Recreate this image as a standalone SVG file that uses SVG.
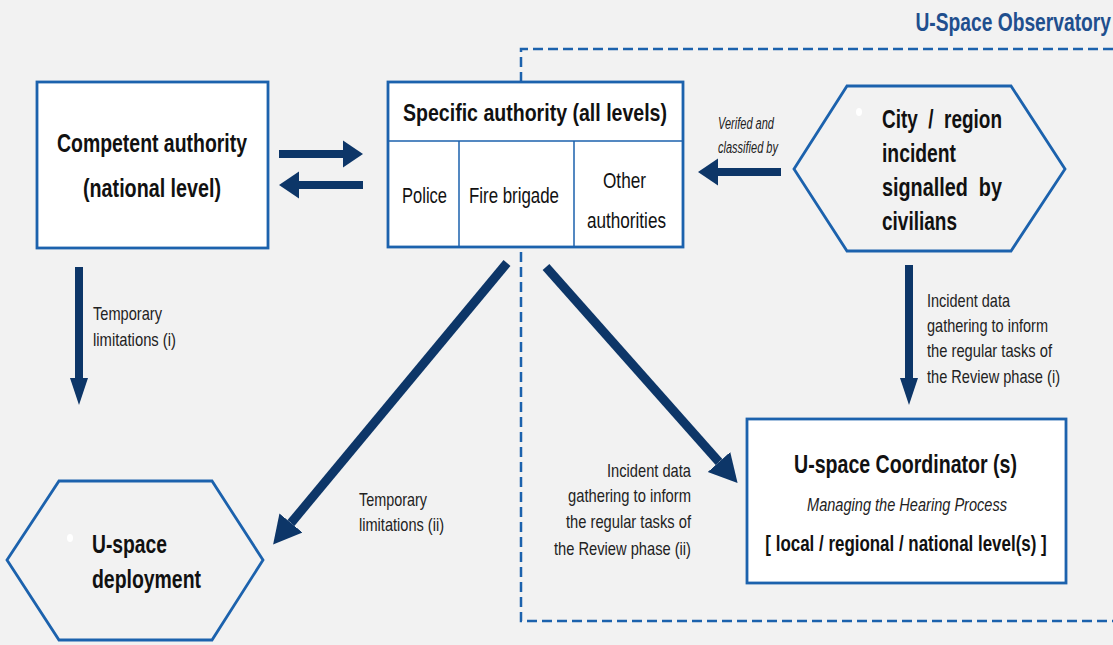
<svg xmlns="http://www.w3.org/2000/svg" width="1113" height="645" viewBox="0 0 1113 645">
  <style>
    .box { fill: #ffffff; stroke: #1c62ad; stroke-width: 2.8; }
    .hex { fill: #f2f2f2; stroke: #1c62ad; stroke-width: 2.8; }
    .div { stroke: #1c62ad; stroke-width: 1.5; fill: none; }
    .zone { fill: none; stroke: #1c62ad; stroke-width: 2.5; stroke-dasharray: 10 5; }
    .arr { stroke: #0d3668; stroke-width: 8; fill: none; }
    .arrd { stroke: #0d3668; stroke-width: 9; fill: none; }
    text { font-family: "Liberation Sans", Arial, sans-serif; fill: #111111; }
    .h { font-weight: bold; font-size: 25px; }
    .h2 { font-weight: bold; font-size: 24px; }
    .cell { font-size: 22px; }
    .lbl { font-size: 19px; fill: #222222; }
    .it { font-style: italic; }
    .dot { fill: #ffffff; }
  </style>
  <defs>
    <marker id="headH" markerUnits="userSpaceOnUse" markerWidth="20" markerHeight="28" viewBox="0 -14 20 28" refX="0" refY="0" orient="auto">
      <path d="M0,-13.5 L20,0 L0,13.5 z" fill="#0d3668"/>
    </marker>
    <marker id="headV" markerUnits="userSpaceOnUse" markerWidth="28" markerHeight="20" viewBox="0 -10 28 20" refX="0" refY="0" orient="auto">
      <path d="M0,-9 L27,0 L0,9 z" fill="#0d3668"/>
    </marker>
    <marker id="headD" markerUnits="userSpaceOnUse" markerWidth="28" markerHeight="32" viewBox="0 -16 28 32" refX="0" refY="0" orient="auto">
      <path d="M0,-15 L28,0 L0,15 z" fill="#0d3668"/>
    </marker>
  </defs>

  <rect width="1113" height="645" fill="#f2f2f2"/>

  <!-- observatory zone -->
  <g id="observatory">
    <path class="zone" d="M1113,49 H521 V621 H1113"/>
    <text transform="translate(1111,31) scale(0.74,1)" text-anchor="end" style="font-weight:bold;font-size:26px;fill:#1f4f8e">U-Space Observatory</text>
  </g>

  <!-- connectors -->
  <g id="connectors">
    <path class="arr" d="M279,154 H343" marker-end="url(#headH)"/>
    <path class="arr" d="M363,185 H299" marker-end="url(#headH)"/>
    <path class="arr" d="M781,172 H718" marker-end="url(#headH)"/>
    <path class="arr" d="M79,267 V378" marker-end="url(#headV)"/>
    <path class="arr" d="M909,265 V378" marker-end="url(#headV)"/>
    <path class="arrd" d="M507,263 L291,523" marker-end="url(#headD)"/>
    <path class="arrd" d="M546,267 L719,462" marker-end="url(#headD)"/>

    <text class="lbl" x="93" y="320" textLength="69" lengthAdjust="spacingAndGlyphs">Temporary</text>
    <text class="lbl" x="93" y="346" textLength="83" lengthAdjust="spacingAndGlyphs">limitations (i)</text>

    <text x="718" y="129" class="it" textLength="56" lengthAdjust="spacingAndGlyphs" style="font-size:16px;fill:#222">Verifed and</text>
    <text x="718" y="153" class="it" textLength="60" lengthAdjust="spacingAndGlyphs" style="font-size:16px;fill:#222">classified by</text>

    <text class="lbl" x="927" y="307" textLength="83" lengthAdjust="spacingAndGlyphs">Incident data</text>
    <text class="lbl" x="927" y="332" textLength="121" lengthAdjust="spacingAndGlyphs">gathering to inform</text>
    <text class="lbl" x="927" y="357" textLength="125" lengthAdjust="spacingAndGlyphs">the regular tasks of</text>
    <text class="lbl" x="927" y="383" textLength="133" lengthAdjust="spacingAndGlyphs">the Review phase (i)</text>

    <text class="lbl" x="359" y="506" textLength="68" lengthAdjust="spacingAndGlyphs">Temporary</text>
    <text class="lbl" x="359" y="531" textLength="85" lengthAdjust="spacingAndGlyphs">limitations (ii)</text>

    <text class="lbl" x="607" y="477" textLength="84" lengthAdjust="spacingAndGlyphs">Incident data</text>
    <text class="lbl" x="568" y="502" textLength="123" lengthAdjust="spacingAndGlyphs">gathering to inform</text>
    <text class="lbl" x="566" y="528" textLength="125" lengthAdjust="spacingAndGlyphs">the regular tasks of</text>
    <text class="lbl" x="554" y="555" textLength="137" lengthAdjust="spacingAndGlyphs">the Review phase (ii)</text>
  </g>

  <!-- competent authority -->
  <g id="competent-authority">
    <rect class="box" x="37" y="82" width="231" height="166"/>
    <text class="h" x="57" y="152" textLength="190" lengthAdjust="spacingAndGlyphs">Competent authority</text>
    <text class="h" x="83" y="197" textLength="138" lengthAdjust="spacingAndGlyphs">(national level)</text>
  </g>

  <!-- specific authority -->
  <g id="specific-authority">
    <rect class="box" x="388" y="82" width="295" height="165"/>
    <path class="div" d="M388,141 H683 M459,141 V247 M574,141 V247"/>
    <text class="h2" x="403" y="121" textLength="264" lengthAdjust="spacingAndGlyphs">Specific authority (all levels)</text>
    <text class="cell" x="402" y="203" textLength="45" lengthAdjust="spacingAndGlyphs">Police</text>
    <text class="cell" x="469" y="203" textLength="90" lengthAdjust="spacingAndGlyphs">Fire brigade</text>
    <text class="cell" x="603" y="188" textLength="43" lengthAdjust="spacingAndGlyphs">Other</text>
    <text class="cell" x="587" y="228" textLength="79" lengthAdjust="spacingAndGlyphs">authorities</text>
  </g>

  <!-- city / region incident -->
  <g id="city-incident">
    <polygon class="hex" points="847,86 1011,86 1065,169 1011,251 847,251 794,169"/>
    <ellipse class="dot" cx="859" cy="112" rx="3" ry="4"/>
    <text class="h" x="882" y="128" xml:space="preserve" textLength="120" lengthAdjust="spacingAndGlyphs">City  /  region</text>
    <text class="h" x="882" y="162" textLength="74" lengthAdjust="spacingAndGlyphs">incident</text>
    <text class="h" x="882" y="196" xml:space="preserve" textLength="120" lengthAdjust="spacingAndGlyphs">signalled  by</text>
    <text class="h" x="882" y="230" textLength="75" lengthAdjust="spacingAndGlyphs">civilians</text>
  </g>

  <!-- u-space deployment -->
  <g id="uspace-deployment">
    <polygon class="hex" points="59,481 212,481 263,560 212,640 59,640 7,560"/>
    <ellipse class="dot" cx="70" cy="538" rx="3" ry="4"/>
    <text class="h" x="92" y="553" textLength="75" lengthAdjust="spacingAndGlyphs">U-space</text>
    <text class="h" x="92" y="588" textLength="109" lengthAdjust="spacingAndGlyphs">deployment</text>
  </g>

  <!-- u-space coordinator -->
  <g id="uspace-coordinator">
    <rect class="box" x="747" y="419" width="319" height="164"/>
    <text class="h" x="794" y="473" textLength="223" lengthAdjust="spacingAndGlyphs">U-space Coordinator (s)</text>
    <text x="807" y="511" class="it" textLength="200" lengthAdjust="spacingAndGlyphs" style="font-size:18px;fill:#222">Managing the Hearing Process</text>
    <text class="h2" transform="translate(906,551) scale(0.77,1)" text-anchor="middle" style="font-size:22px">[ local / regional / national level(s) ]</text>
  </g>
</svg>
